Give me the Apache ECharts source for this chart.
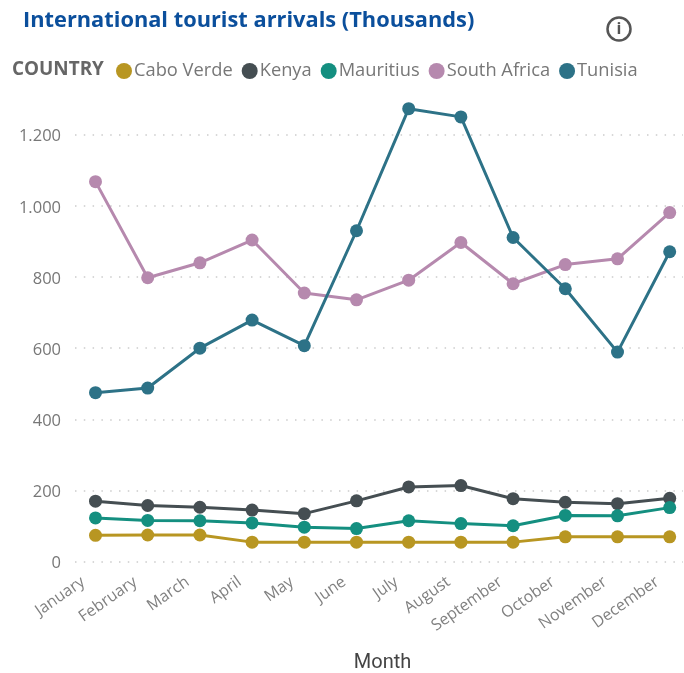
<!DOCTYPE html>
<html>
<head>
<meta charset="utf-8">
<style>html,body{margin:0;padding:0;background:#fff}#chart{width:684px;height:673px}</style>
<script src="https://cdn.jsdelivr.net/npm/echarts@6/dist/echarts.min.js"></script>
</head>
<body>
<div id="chart"></div>
<script>
const months = ['January','February','March','April','May','June','July','August','September','October','November','December'];
const caboVerde = [74,75,75,55,55,55,55,55,55,70,70,70];
const kenya = [170,158,153,145,135,171,210,214,177,167,163,178];
const mauritius = [123,116,115,109,97,93,115,107,101,130,129,152];
const southAfrica = [1068,798,840,904,755,736,791,897,781,835,851,981];
const tunisia = [475,488,600,679,607,930,1273,1250,911,767,589,871];
const yTicks = {min:0, max:1400, interval:200};

const seriesDefs = [
  ['Cabo Verde', caboVerde, '#B89622'],
  ['Kenya', kenya, '#454E52'],
  ['Mauritius', mauritius, '#148F80'],
  ['South Africa', southAfrica, '#B689AE'],
  ['Tunisia', tunisia, '#2D7287']
];
const fontUI = '"Open Sans", sans-serif';
const plotTop = 63.5, plotHeight = 498.2;

const chart = echarts.init(document.getElementById('chart'), null, {renderer:'canvas'});
chart.setOption({
  animation:false,
  backgroundColor:'#fff',
  title:{
    text:'International tourist arrivals (Thousands)',
    left:18, top:5,
    textStyle:{color:'#0B4F9C', fontFamily:fontUI, fontWeight:'bold', fontSize:21.8}
  },
  legend:{
    left:111, top:57, icon:'circle', itemWidth:16, itemHeight:16, itemGap:9,
    textStyle:{color:'#777', fontFamily:fontUI, fontSize:18.3, padding:[0,0,0,-3]},
    data:seriesDefs.map(d=>d[0])
  },
  grid:[
    // data area: one band per month, running past the right edge of the page
    {left:69.4, width:626.4, top:plotTop, height:plotHeight, outerBoundsMode:'none'},
    // value scale with its dotted guides
    {left:75, width:608, top:plotTop, height:plotHeight, outerBoundsMode:'none'}
  ],
  xAxis:[
    {
      type:'category', gridIndex:0, data:months, boundaryGap:true,
      name:'Month', nameLocation:'middle', nameGap:91,
      nameTextStyle:{color:'#444', fontFamily:'Roboto, sans-serif', fontSize:20},
      axisLine:{show:false}, axisTick:{show:false},
      axisLabel:{rotate:35, interval:0, color:'#808080', fontFamily:fontUI, fontSize:16, margin:10, padding:[0,15,0,0]}
    },
    {type:'value', gridIndex:1, min:0, max:1, show:false}
  ],
  yAxis:[
    {type:'value', gridIndex:0, min:yTicks.min, max:yTicks.max, interval:yTicks.interval, show:false},
    {
      type:'value', gridIndex:1, min:yTicks.min, max:yTicks.max, interval:yTicks.interval,
      axisLine:{show:false}, axisTick:{show:false},
      axisLabel:{color:'#777', fontFamily:fontUI, fontSize:16.5, margin:14, verticalAlign:'top', lineHeight:4,
        showMaxLabel:false,
        formatter:v=>String(v).replace(/\B(?=(\d{3})+$)/g,'.')},
      splitLine:{showMaxLine:false, lineStyle:{color:'#ccc', type:[1.5,7.3], width:1.5}}
    }
  ],
  series:seriesDefs.map(([name,values,color])=>({
    name, type:'line', xAxisIndex:0, yAxisIndex:0, data:values, symbol:'circle', symbolSize:13,
    itemStyle:{color}, lineStyle:{color, width:3}
  })),
  graphic:[
    {type:'text', left:12, top:60, style:{text:'COUNTRY', fill:'#666', font:'bold 18.9px "Open Sans", sans-serif'}},
    {type:'circle', shape:{cx:619, cy:29, r:11.5}, style:{fill:'none', stroke:'#555', lineWidth:2.5}},
    {type:'text', x:619, y:29, style:{text:'i', fill:'#555', align:'center', verticalAlign:'middle', font:'bold 16px "Open Sans", sans-serif'}}
  ]
});
</script>
</body>
</html>
